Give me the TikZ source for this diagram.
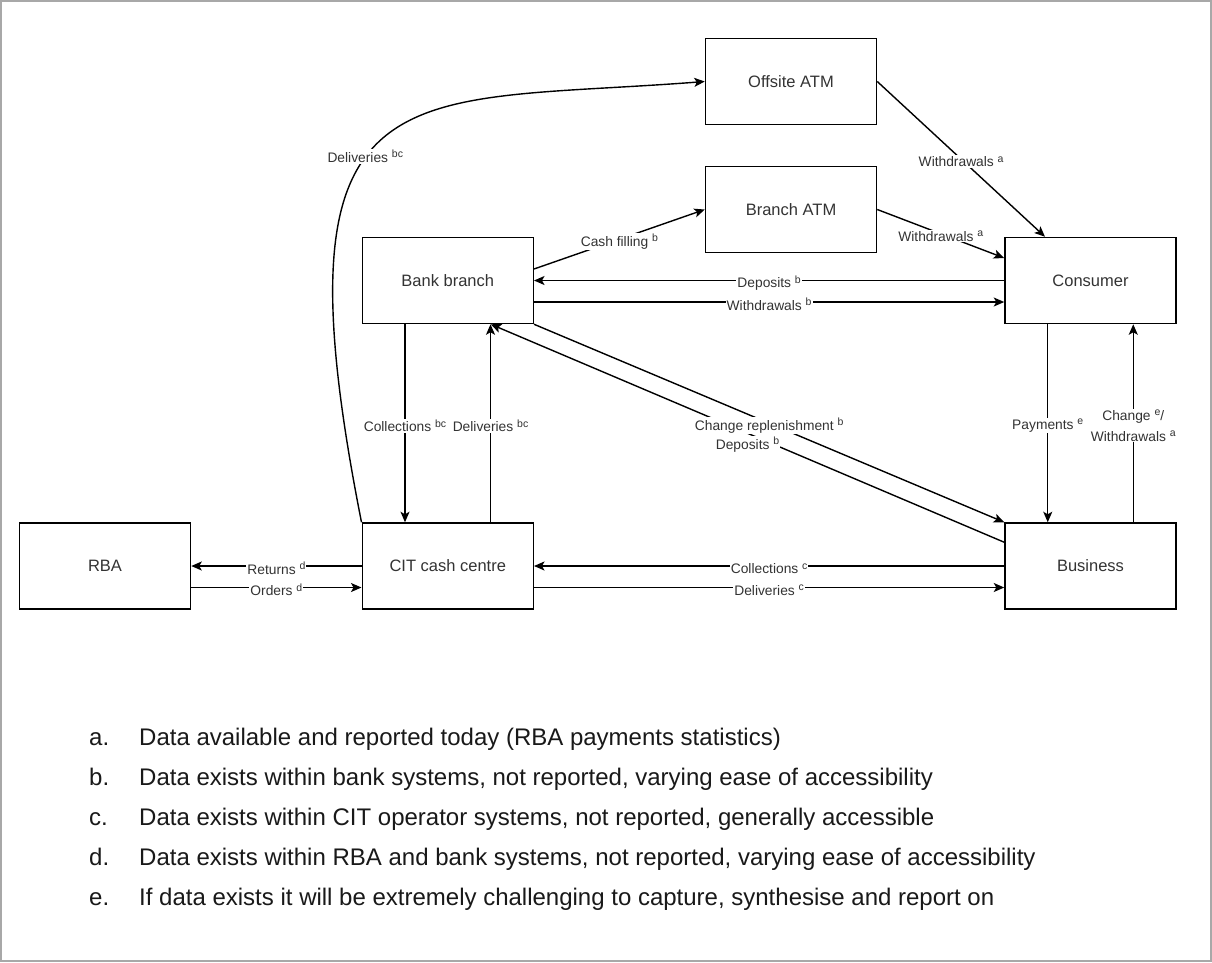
\documentclass[tikz,border=0pt]{standalone}
\usepackage{fontspec}
\setmainfont{Liberation Sans}
\usetikzlibrary{arrows.meta}
\definecolor{framegray}{HTML}{A8A8A8}
\definecolor{txt}{HTML}{333333}
\newcommand\supx[1]{\raisebox{4.5pt}{\fontsize{10.5}{10.5}\selectfont #1}}
\begin{document}
\begin{tikzpicture}[x=1pt,y=-1pt,
  box/.style={draw, line width=1.5pt, minimum width=171pt, minimum height=86pt, inner sep=0pt,
    text=txt, font=\fontsize{16.5}{20}\selectfont},
  arr/.style={line width=1.4pt, -{Stealth[length=10.5pt,width=9pt,inset=2.5pt]}},
  lab/.style={fill=white, inner sep=1pt, yshift=-2.5pt, text=txt, font=\fontsize{13.8}{16}\selectfont},
  legend/.style={anchor=base west, inner sep=0pt, text=black!90, font=\fontsize{24}{28}\selectfont}]
\useasboundingbox (0,0) rectangle (1212,962);
\fill[white] (0,0) rectangle (1212,962);
\draw[framegray, line width=2pt] (1,1) rectangle (1211,961);

\node[box] (offsite) at (791,81.5) {Offsite ATM};
\node[box] (branchatm) at (791,209.5) {Branch ATM};
\node[box] (bank) at (447.75,280.5) {Bank branch};
\node[box] (consumer) at (1090.5,280.5) {Consumer};
\node[box] (rba) at (105,566) {RBA};
\node[box] (cit) at (447.75,566) {CIT cash centre};
\node[box] (business) at (1090.5,566) {Business};

% curved delivery to offsite ATM
\draw[arr] (cit.north west) .. controls (270,60) and (400,105) .. node[lab, pos=0.45, xshift=-3pt] {Deliveries \supx{bc}} (offsite.west);

% ATM withdrawals
\draw[arr] (offsite.east) -- node[lab] {Withdrawals \supx{a}} ([xshift=-45.5pt]consumer.north);
\draw[arr] (branchatm.east) -- node[lab] {Withdrawals \supx{a}} ([yshift=22.5pt]consumer.west);
\draw[arr] ([yshift=11.5pt]bank.east) -- node[lab] {Cash filling \supx{b}} (branchatm.west);

% bank <-> consumer
\draw[arr] (consumer.west) -- node[lab] {Deposits \supx{b}} (bank.east);
\draw[arr] ([yshift=-21.5pt]bank.east) -- node[lab] {Withdrawals \supx{b}} ([yshift=-21.5pt]consumer.west);

% bank <-> CIT
\draw[arr] ([xshift=-42.75pt]bank.south) -- node[lab] {Collections \supx{bc}} ([xshift=-42.75pt]cit.north);
\draw[arr] ([xshift=42.75pt]cit.north) -- node[lab] {Deliveries \supx{bc}} ([xshift=42.75pt]bank.south);

% business <-> bank
\draw[arr] ([yshift=-20pt]business.north west) -- node[lab, yshift=-9pt] {Deposits \supx{b}} ([xshift=43pt]bank.south);
\draw[arr] (bank.south east) -- node[lab] {Change replenishment \supx{b}} (business.north west);

% consumer <-> business
\draw[arr] ([xshift=-42.75pt]consumer.south) -- node[lab] {Payments \supx{e}} ([xshift=-42.75pt]business.north);
\draw[arr] ([xshift=42.75pt]business.north) -- node[lab, align=center, font=\fontsize{13.8}{21}\selectfont] {Change \supx{e}/\\Withdrawals \supx{a}} ([xshift=42.75pt]consumer.south);

% RBA <-> CIT
\draw[arr] (cit.west) -- node[lab] {Returns \supx{d}} (rba.east);
\draw[arr] ([yshift=-21.5pt]rba.east) -- node[lab] {Orders \supx{d}} ([yshift=-21.5pt]cit.west);

% CIT <-> business
\draw[arr] (business.west) -- node[lab] {Collections \supx{c}} (cit.east);
\draw[arr] ([yshift=-21.5pt]cit.east) -- node[lab] {Deliveries \supx{c}} ([yshift=-21.5pt]business.west);

% legend
\node[legend] (la) at (89,745) {a.};
\node[legend] (ta) at (139,745) {Data available and reported today (RBA payments statistics)};
\node[legend] (lb) at (89,785) {b.};
\node[legend] (tb) at (139,785) {Data exists within bank systems, not reported, varying ease of accessibility};
\node[legend] (lc) at (89,825) {c.};
\node[legend] (tc) at (139,825) {Data exists within CIT operator systems, not reported, generally accessible};
\node[legend] (ld) at (89,865) {d.};
\node[legend] (td) at (139,865) {Data exists within RBA and bank systems, not reported, varying ease of accessibility};
\node[legend] (le) at (89,905) {e.};
\node[legend] (te) at (139,905) {If data exists it will be extremely challenging to capture, synthesise and report on};
\end{tikzpicture}
\end{document}
